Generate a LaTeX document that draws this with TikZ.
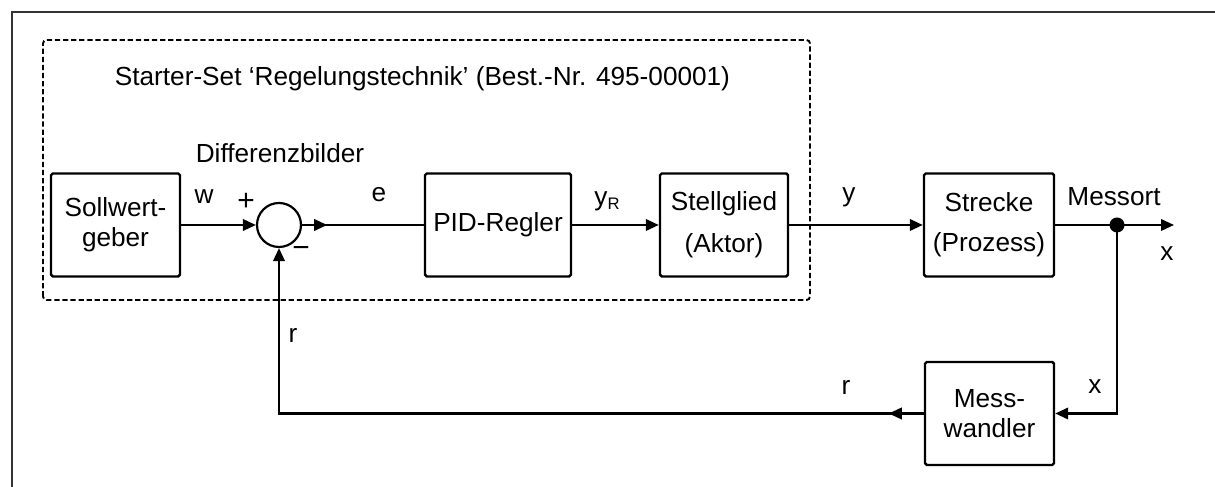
\documentclass[tikz,border=0pt]{standalone}
\usepackage{fontspec}
\setmainfont{Liberation Sans}
\usetikzlibrary{arrows.meta,decorations.markings}
\begin{document}
\begin{tikzpicture}[
  font=\fontsize{14.9}{17}\selectfont,
  block/.style={draw,line width=1.4pt,rounded corners=1pt,minimum width=2.58cm,minimum height=2.06cm,align=center,inner sep=0pt},
  flow/.style={line width=1.25pt},
  arr/.style={-{Triangle[length=2.6mm,width=2.3mm]}},
  midtip/.style={postaction={decorate},decoration={markings,mark=at position #1 with {\arrow{Triangle[length=2.6mm,width=2.3mm]}}}}
]
\useasboundingbox (0,0) rectangle (24.3,9.74);
\draw[line width=0.8pt,black!80] (0.24,0) -- (0.24,9.5) -- (24.3,9.5);
\draw[line width=1.1pt,dash pattern=on 3pt off 1.6pt,rounded corners=2pt] (0.86,3.74) rectangle (16.2,8.94);
\node at (8.45,8.16) {Starter-Set ‘Regelungstechnik’ (Best.-Nr. 495-00001)};
\node[block] (soll) at (2.31,5.24) {Sollwert-\\geber};
\node[draw,circle,flow,minimum size=0.88cm,inner sep=0pt] (sum) at (5.58,5.24) {};
\node[block,minimum width=2.92cm] (pid) at (9.96,5.24) {PID-Regler};
\node[block,minimum width=2.56cm] (stell) at (14.48,5.24) {Stellglied\\[7pt](Aktor)};
\node[block,minimum width=2.6cm] (strecke) at (19.78,5.24) {Strecke\\[6pt](Prozess)};
\node[block] (mw) at (19.79,1.47) {Mess-\\wandler};
\coordinate (mess) at (22.34,5.24);
\coordinate (out) at (23.48,5.24);
\draw[flow,arr] (soll) -- (sum);
\draw[flow,midtip=0.5cm] (sum) -- (pid);
\draw[flow,arr] (pid) -- (stell);
\draw[flow,arr] (stell) -- (strecke);
\draw[flow,arr] (strecke) -- (out);
\draw[flow,arr] (mess) |- (mw);
\draw[flow,arr,midtip=0.7cm] (mw) -| (sum);
\fill (mess) circle (0.15);
\node at (5.6,6.68) {Differenzbilder};
\node at (4.08,5.8) {w};
\node[font=\fontsize{17}{17}\selectfont] at (4.92,5.7) {+};
\node[font=\fontsize{17}{17}\selectfont] at (6.02,4.7) {−};
\node at (7.58,5.84) {e};
\node at (12.14,5.72) {y{\fontsize{9.5}{9.5}\selectfont\raisebox{-0.5ex}{R}}};
\node at (16.98,5.8) {y};
\node at (22.28,5.8) {Messort};
\node at (23.34,4.66) {x};
\node at (21.9,2.0) {x};
\node at (16.92,2.0) {r};
\node at (5.86,3.04) {r};
\end{tikzpicture}
\end{document}
